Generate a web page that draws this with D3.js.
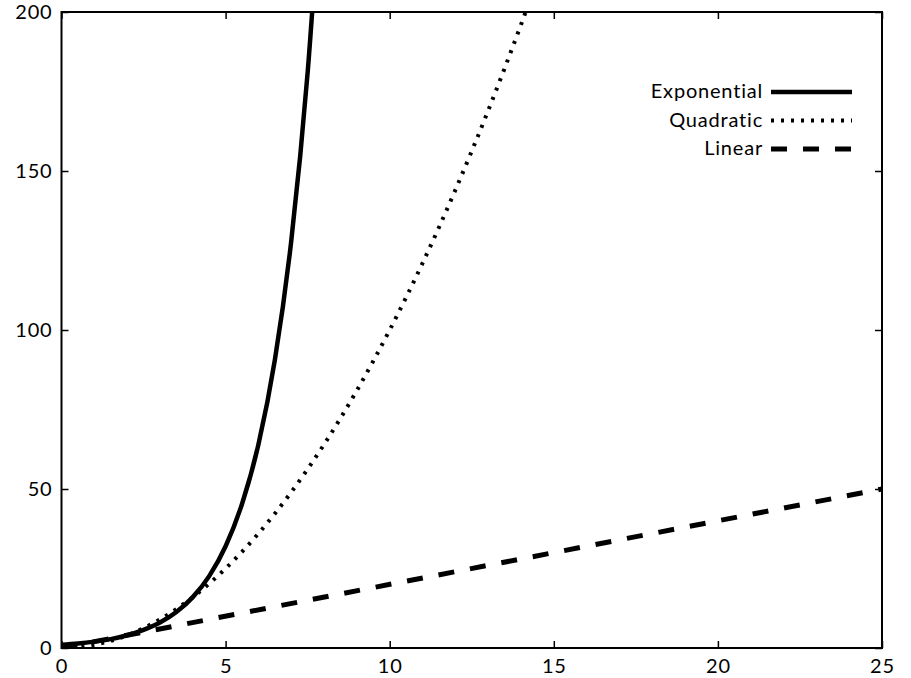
<!DOCTYPE html>
<html>
<head>
<meta charset="utf-8">
<script src="https://cdn.jsdelivr.net/npm/d3@7"></script>
<style>
  body { margin: 0; background: #fff; }
  text { font-family: "Lato", "DejaVu Sans", sans-serif; fill: #000; letter-spacing: 0.8px; }
</style>
</head>
<body>
<svg id="chart" width="911" height="678"></svg>
<script>
// values
const expX = [0, 0.5, 1, 1.5, 2, 2.5, 3, 3.5, 4, 4.5, 5, 5.5, 6, 6.5, 7, 7.5, 8];
const expY = [1, 1.4, 2, 2.8, 4, 5.7, 8, 11.3, 16, 22.6, 32, 45.3, 64, 90.5, 128, 181, 256];

const quadX = [0, 1, 2, 3, 4, 5, 6, 7, 8, 9, 10, 11, 12, 13, 14, 15];
const quadY = [0, 1, 4, 9, 16, 25, 36, 49, 64, 81, 100, 121, 144, 169, 196, 225];

const linX = [0, 25];
const linY = [0, 50];

const xTicks = [0, 5, 10, 15, 20, 25];
const yTicks = [0, 50, 100, 150, 200];

const legendNames = ["Exponential", "Quadratic", "Linear"];

const margin = { top: 12, right: 29, bottom: 30, left: 61.5 };
const width = 911, height = 678;

const svg = d3.select("#chart");

const x = d3.scaleLinear().domain([0, 25]).range([margin.left, width - margin.right]);
const y = d3.scaleLinear().domain([0, 200]).range([height - margin.bottom, margin.top]);

svg.append("defs").append("clipPath").attr("id", "plotClip")
  .append("rect")
  .attr("x", x(0)).attr("y", y(200))
  .attr("width", x(25) - x(0)).attr("height", y(0) - y(200));

const styles = [
  { dash: null, width: 4.5 },
  { dash: "3,7", width: 4 },
  { dash: "16,16", width: 5 }
];

const series = [
  expX.map((d, i) => [d, expY[i]]),
  quadX.map((d, i) => [d, quadY[i]]),
  linX.map((d, i) => [d, linY[i]])
];

const line = d3.line()
  .x((d) => x(d[0]))
  .y((d) => y(d[1]))
  .curve(d3.curveMonotoneX);

const plot = svg.append("g").attr("clip-path", "url(#plotClip)");
series.forEach((s, i) => {
  plot.append("path")
    .datum(s)
    .attr("fill", "none")
    .attr("stroke", "#000")
    .attr("stroke-width", styles[i].width)
    .attr("stroke-dasharray", styles[i].dash)
    .attr("d", line);
});

// axes with inward ticks on all four sides
const tickLen = 7;
const fmt = d3.format("d");

const axBottom = svg.append("g").attr("transform", `translate(0,${y(0)})`)
  .call(d3.axisBottom(x).tickValues(xTicks).tickSizeInner(-tickLen).tickSizeOuter(0).tickPadding(11).tickFormat(fmt));
const axTop = svg.append("g").attr("transform", `translate(0,${y(200)})`)
  .call(d3.axisTop(x).tickValues(xTicks).tickSizeInner(-tickLen).tickSizeOuter(0).tickFormat(""));
const axLeft = svg.append("g").attr("transform", `translate(${x(0)},0)`)
  .call(d3.axisLeft(y).tickValues(yTicks).tickSizeInner(-tickLen).tickSizeOuter(0).tickPadding(9).tickFormat(fmt));
const axRight = svg.append("g").attr("transform", `translate(${x(25)},0)`)
  .call(d3.axisRight(y).tickValues(yTicks).tickSizeInner(-tickLen).tickSizeOuter(0).tickFormat(""));

[axBottom, axTop, axLeft, axRight].forEach((g) => {
  g.select(".domain").remove();
  g.selectAll(".tick line").attr("stroke", "#000").attr("stroke-width", 1.5);
  g.selectAll(".tick text").style("font-size", "20px").attr("fill", "#000");
});

svg.append("rect")
  .attr("x", x(0)).attr("y", y(200))
  .attr("width", x(25) - x(0)).attr("height", y(0) - y(200))
  .attr("fill", "none").attr("stroke", "#000").attr("stroke-width", 2);

// legend
const legend = svg.append("g");
legendNames.forEach((name, i) => {
  const ly = 91 + i * 28.5;
  legend.append("text")
    .attr("x", 763).attr("y", ly).attr("dy", "0.35em")
    .attr("text-anchor", "end")
    .style("font-size", "20px")
    .text(name);
  legend.append("line")
    .attr("x1", 771).attr("x2", 852)
    .attr("y1", ly + 1).attr("y2", ly + 1)
    .attr("stroke", "#000")
    .attr("stroke-width", styles[i].width)
    .attr("stroke-dasharray", styles[i].dash);
});
</script>
</body>
</html>
